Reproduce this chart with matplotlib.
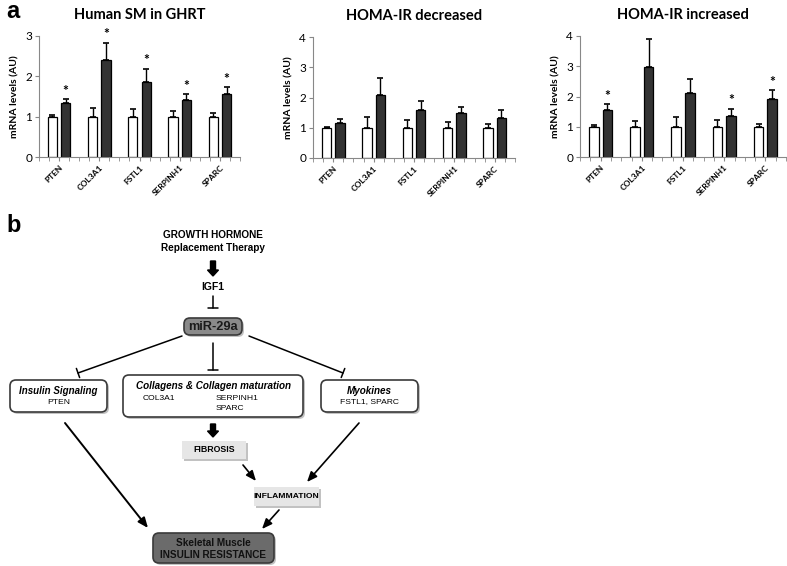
import numpy as np
import matplotlib
matplotlib.use("Agg")
import matplotlib.pyplot as plt
from matplotlib.patches import FancyBboxPatch, FancyArrow

# ---- datos panel a ----
genes = ["PTEN", "COL3A1", "FSTL1", "SERPINH1", "SPARC"]

titulos = ["Human SM in GHRT", "HOMA-IR decreased", "HOMA-IR increased"]
ymax = [3, 4, 4]

control = [1.0, 1.0, 1.0, 1.0, 1.0]
control_err_ghrt = [0.04, 0.21, 0.20, 0.13, 0.10]
control_err_dec = [0.04, 0.36, 0.27, 0.19, 0.13]
control_err_inc = [0.05, 0.20, 0.31, 0.22, 0.08]

ghrt = [1.33, 2.40, 1.87, 1.42, 1.56]
ghrt_err = [0.10, 0.43, 0.32, 0.14, 0.17]
homa_dec = [1.15, 2.09, 1.60, 1.48, 1.33]
homa_dec_err = [0.14, 0.54, 0.29, 0.21, 0.25]
homa_inc = [1.54, 2.96, 2.10, 1.37, 1.91]
homa_inc_err = [0.21, 0.95, 0.47, 0.22, 0.30]

estrellas_ghrt = [True, True, True, True, True]
estrellas_dec = [False, False, False, False, False]
estrellas_inc = [True, False, False, True, True]

W, H = 787, 566
fig = plt.figure(figsize=(W / 100, H / 100), dpi=100)

# capa para el diagrama, en pixeles
lienzo = fig.add_axes([0, 0, 1, 1], zorder=0)
lienzo.set_xlim(0, W)
lienzo.set_ylim(H, 0)
lienzo.axis("off")
lienzo.patch.set_alpha(0)


def px_rect(x0, y0, x1, y1):
    return [x0 / W, 1 - y1 / H, (x1 - x0) / W, (y1 - y0) / H]


def graficar_panel(rect, titulo, top, ctrl_err, valores, errores, estrellas):
    ax = fig.add_axes(rect, zorder=2)
    x = np.arange(len(genes))
    off, ancho = 0.165, 0.23
    ax.bar(x - off, control, ancho, color="white", edgecolor="black", lw=0.9, zorder=2)
    ax.bar(x + off, valores, ancho, color="#333333", edgecolor="black", lw=0.9, zorder=2)
    ax.errorbar(x - off, control, yerr=[np.zeros(5), ctrl_err], fmt="none",
                ecolor="black", elinewidth=1, capsize=2, capthick=1.2, zorder=3)
    ax.errorbar(x + off, valores, yerr=[np.zeros(5), errores], fmt="none",
                ecolor="black", elinewidth=1, capsize=2, capthick=1.2, zorder=3)
    for i, s in enumerate(estrellas):
        if s:
            ax.text(x[i] + off, valores[i] + errores[i] + 0.02 * top, "*",
                    ha="center", va="bottom", fontsize=10, fontweight="bold")
    ax.set_xlim(-0.33, 4.37)
    ax.set_ylim(0, top)
    ax.set_yticks(range(top + 1))
    ax.tick_params(axis="y", labelsize=8.5, length=3, color="#888888", pad=2)
    ax.set_xticks(x)
    ax.set_xticklabels(genes, rotation=45, ha="right", rotation_mode="anchor",
                       fontsize=6, fontweight="bold")
    ax.set_xticks(np.concatenate([x - 0.5, x - 0.25, x + 0.25, [4.5]]), minor=True)
    ax.tick_params(axis="x", which="both", length=3, color="#888888", pad=2)
    for lado in ["top", "right"]:
        ax.spines[lado].set_visible(False)
    for lado in ["left", "bottom"]:
        ax.spines[lado].set_color("#888888")
    ax.set_ylabel("mRNA levels (AU)", fontsize=7.5, fontweight="bold", labelpad=4)
    ax.set_title(titulo, fontsize=10.5, fontweight="bold", pad=12)
    ax.patch.set_alpha(0)
    return ax


plt.rcParams["font.family"] = ["Lato", "DejaVu Sans"]
graficar_panel(px_rect(39, 36, 240, 157), titulos[0], ymax[0],
               control_err_ghrt, ghrt, ghrt_err, estrellas_ghrt)
graficar_panel(px_rect(313, 37, 515, 158), titulos[1], ymax[1],
               control_err_dec, homa_dec, homa_dec_err, estrellas_dec)
graficar_panel(px_rect(580, 36, 786, 157), titulos[2], ymax[2],
               control_err_inc, homa_inc, homa_inc_err, estrellas_inc)

# ---- panel b: diagrama ----
fuente = ["Liberation Sans", "DejaVu Sans"]
lienzo.text(6, 12, "a", fontsize=17, fontweight="bold", va="center", family=fuente)
lienzo.text(6, 226, "b", fontsize=17, fontweight="bold", va="center", family=fuente)


def caja(x0, y0, x1, y1, relleno, redondeada=True):
    estilo = "round,pad=0,rounding_size=6" if redondeada else "square,pad=0"
    sombra = FancyBboxPatch((x0 + 2, y0 + 2), x1 - x0, y1 - y0, boxstyle=estilo,
                            fc="#a8a8a8", ec="none", alpha=0.7, zorder=1)
    lienzo.add_patch(sombra)
    borde = "#3a3a3a" if redondeada else "none"
    lienzo.add_patch(FancyBboxPatch((x0, y0), x1 - x0, y1 - y0, boxstyle=estilo,
                                    fc=relleno, ec=borde, lw=1.2, zorder=2))


def texto(x, y, s, size=7, bold=False, italic=False, ha="center", color="black"):
    lienzo.text(x, y, s, ha=ha, va="center", fontsize=size, color=color,
                fontweight="bold" if bold else "normal",
                fontstyle="italic" if italic else "normal", family=fuente, zorder=5)


def flecha(x0, y0, x1, y1, lw=1.2):
    lienzo.annotate("", xy=(x1, y1), xytext=(x0, y0),
                    arrowprops=dict(arrowstyle="-|>,head_length=0.6,head_width=0.25",
                                    lw=lw, color="black", shrinkA=0, shrinkB=0))


def inhibe(x0, y0, x1, y1):
    lienzo.annotate("", xy=(x1, y1), xytext=(x0, y0),
                    arrowprops=dict(arrowstyle="-[,widthB=0.35,lengthB=0",
                                    lw=1.1, color="black", shrinkA=0, shrinkB=0))


def flecha_gruesa(x, y0, y1):
    lienzo.add_patch(FancyArrow(x, y0, 0, y1 - y0, width=5, head_width=11,
                                head_length=6, length_includes_head=True,
                                fc="black", ec="black", zorder=3))


texto(213, 235, "GROWTH HORMONE", size=7.2, bold=True)
texto(213, 248, "Replacement Therapy", size=7.2, bold=True)
flecha_gruesa(213, 261, 276)
texto(213, 287, "IGF1", size=7.5, bold=True)
inhibe(213, 296, 213, 308)

caja(184, 318, 242, 335, "#8a8a8a")
texto(213, 326.5, "miR-29a", size=9.2, bold=True, color="#1a1a1a")

inhibe(182, 336, 78, 373)
inhibe(213, 343, 213, 370)
inhibe(249, 336, 343, 373)

caja(10, 380, 107, 412, "white")
texto(58.5, 391, "Insulin Signaling", size=7, bold=True, italic=True)
texto(58.5, 403, "PTEN", size=6.1)

caja(123, 375, 303, 417, "white")
texto(213, 386, "Collagens & Collagen maturation", size=7.1, bold=True, italic=True)
texto(143, 399, "COL3A1", size=6.1, ha="left")
texto(216, 399, "SERPINH1", size=6.1, ha="left")
texto(216, 409, "SPARC", size=6.1, ha="left")

caja(321, 380, 418, 412, "white")
texto(369.5, 391, "Myokines", size=7.1, bold=True, italic=True)
texto(369.5, 402, "FSTL1, SPARC", size=6.1)

flecha_gruesa(213, 424, 437)
caja(182, 441, 246, 459, "#e6e6e6", redondeada=False)
texto(214, 450, "FIBROSIS", size=6.3, bold=True)

flecha(243, 465, 256, 481)
flecha(359, 423, 307, 482)

caja(254, 487, 319, 506, "#e6e6e6", redondeada=False)
texto(286.5, 496.5, "INFLAMMATION", size=6.1, bold=True)

flecha(279, 510, 262, 529)
flecha(65, 423, 148, 528, lw=1.4)

caja(153, 533, 274, 563, "#6b6b6b")
texto(213.5, 543, "Skeletal Muscle", size=7.2, bold=True, color="#111111")
texto(213.5, 554.5, "INSULIN RESISTANCE", size=7.2, bold=True, color="#111111")

fig.savefig("out.png", dpi=100)
